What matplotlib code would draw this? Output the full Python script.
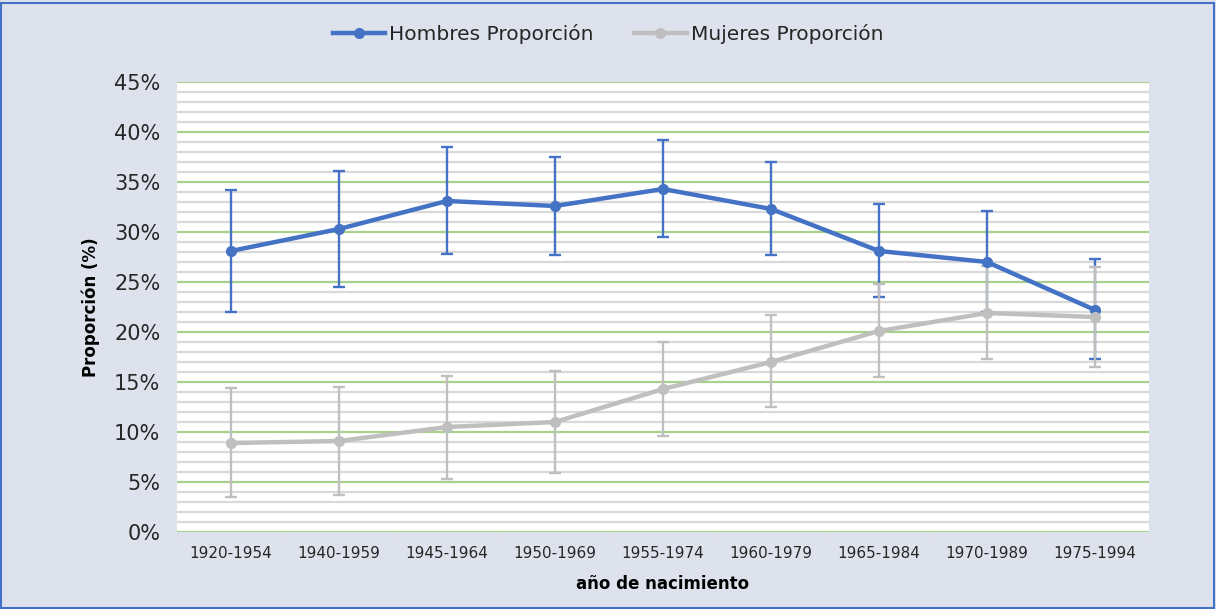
import matplotlib.pyplot as plt
from matplotlib.patches import Rectangle
from matplotlib.ticker import MultipleLocator, FuncFormatter

cohortes = ["1920-1954", "1940-1959", "1945-1964", "1950-1969", "1955-1974",
            "1960-1979", "1965-1984", "1970-1989", "1975-1994"]

hombres = [28.1, 30.3, 33.1, 32.6, 34.3, 32.3, 28.1, 27.0, 22.2]
hombres_sup = [34.2, 36.1, 38.5, 37.5, 39.2, 37.0, 32.8, 32.1, 27.3]
hombres_inf = [22.0, 24.5, 27.8, 27.7, 29.5, 27.7, 23.5, 22.0, 17.3]

mujeres = [8.9, 9.1, 10.5, 11.0, 14.3, 17.0, 20.1, 21.9, 21.5]
mujeres_sup = [14.4, 14.5, 15.6, 16.1, 19.0, 21.7, 24.8, 26.6, 26.5]
mujeres_inf = [3.5, 3.7, 5.3, 5.9, 9.6, 12.5, 15.5, 17.3, 16.5]

azul = "#4472C4"
gris = "#BFBFBF"
fondo = "#DEE2EC"

fig = plt.figure(figsize=(12.16, 6.09), dpi=100, facecolor=fondo)
ax = fig.add_axes([0.1456, 0.1264, 0.7993, 0.739])
ax.set_facecolor("white")

x = list(range(len(cohortes)))

# gridlines
ax.yaxis.set_major_locator(MultipleLocator(5))
ax.yaxis.set_minor_locator(MultipleLocator(1))
ax.grid(which="minor", axis="y", color="#D9D9D9", linewidth=1.6, zorder=0)
ax.grid(which="major", axis="y", color="#A9D18E", linewidth=1.6, zorder=1)
ax.set_axisbelow(True)

# error bars
err_h = [[h - l for h, l in zip(hombres, hombres_inf)], [u - h for h, u in zip(hombres, hombres_sup)]]
err_m = [[m - l for m, l in zip(mujeres, mujeres_inf)], [u - m for m, u in zip(mujeres, mujeres_sup)]]
ax.errorbar(x, hombres, yerr=err_h, fmt="none", ecolor=azul, elinewidth=1.7, capsize=4.5, capthick=1.7, zorder=3)
ax.errorbar(x, mujeres, yerr=err_m, fmt="none", ecolor=gris, elinewidth=1.7, capsize=4.5, capthick=1.7, zorder=4)

ax.plot(x, hombres, color=azul, lw=3.2, marker="o", ms=7, label="Hombres Proporción", zorder=5)
ax.plot(x, mujeres, color=gris, lw=3.2, marker="o", ms=7, label="Mujeres Proporción", zorder=6)

ax.set_xlim(-0.5, len(cohortes) - 0.5)
ax.set_ylim(0, 45)
ax.set_xticks(x)
ax.set_xticklabels(cohortes, fontsize=11, color="#262626")
ax.set_xticks([i + 0.5 for i in range(-1, len(cohortes))], minor=True)
ax.tick_params(axis="x", which="major", length=0, pad=10)
ax.tick_params(axis="x", which="minor", length=4, color="#D9D9D9")
ax.tick_params(axis="y", which="both", length=0, labelsize=15, pad=12, labelcolor="#262626")
ax.yaxis.set_major_formatter(FuncFormatter(lambda v, p: f"{v:.0f}%"))

for s in ax.spines.values():
    s.set_visible(False)

ax.set_xlabel("año de nacimiento", fontsize=12, fontweight="bold", labelpad=10)
ax.set_ylabel("Proporción (%)", fontsize=12, fontweight="bold", labelpad=10)

fig.legend(loc="upper center", bbox_to_anchor=(0.5, 0.99), ncol=2, frameon=False,
           fontsize=14.5, handlelength=2.6, columnspacing=2.0, handletextpad=0.2,
           labelcolor="#262626")

# figure border
fig.patches.append(Rectangle((0.001, 0.001), 0.997, 0.994, transform=fig.transFigure,
                             fill=False, edgecolor=azul, linewidth=1.5))

fig.savefig("out.png", dpi=100, facecolor=fondo)
